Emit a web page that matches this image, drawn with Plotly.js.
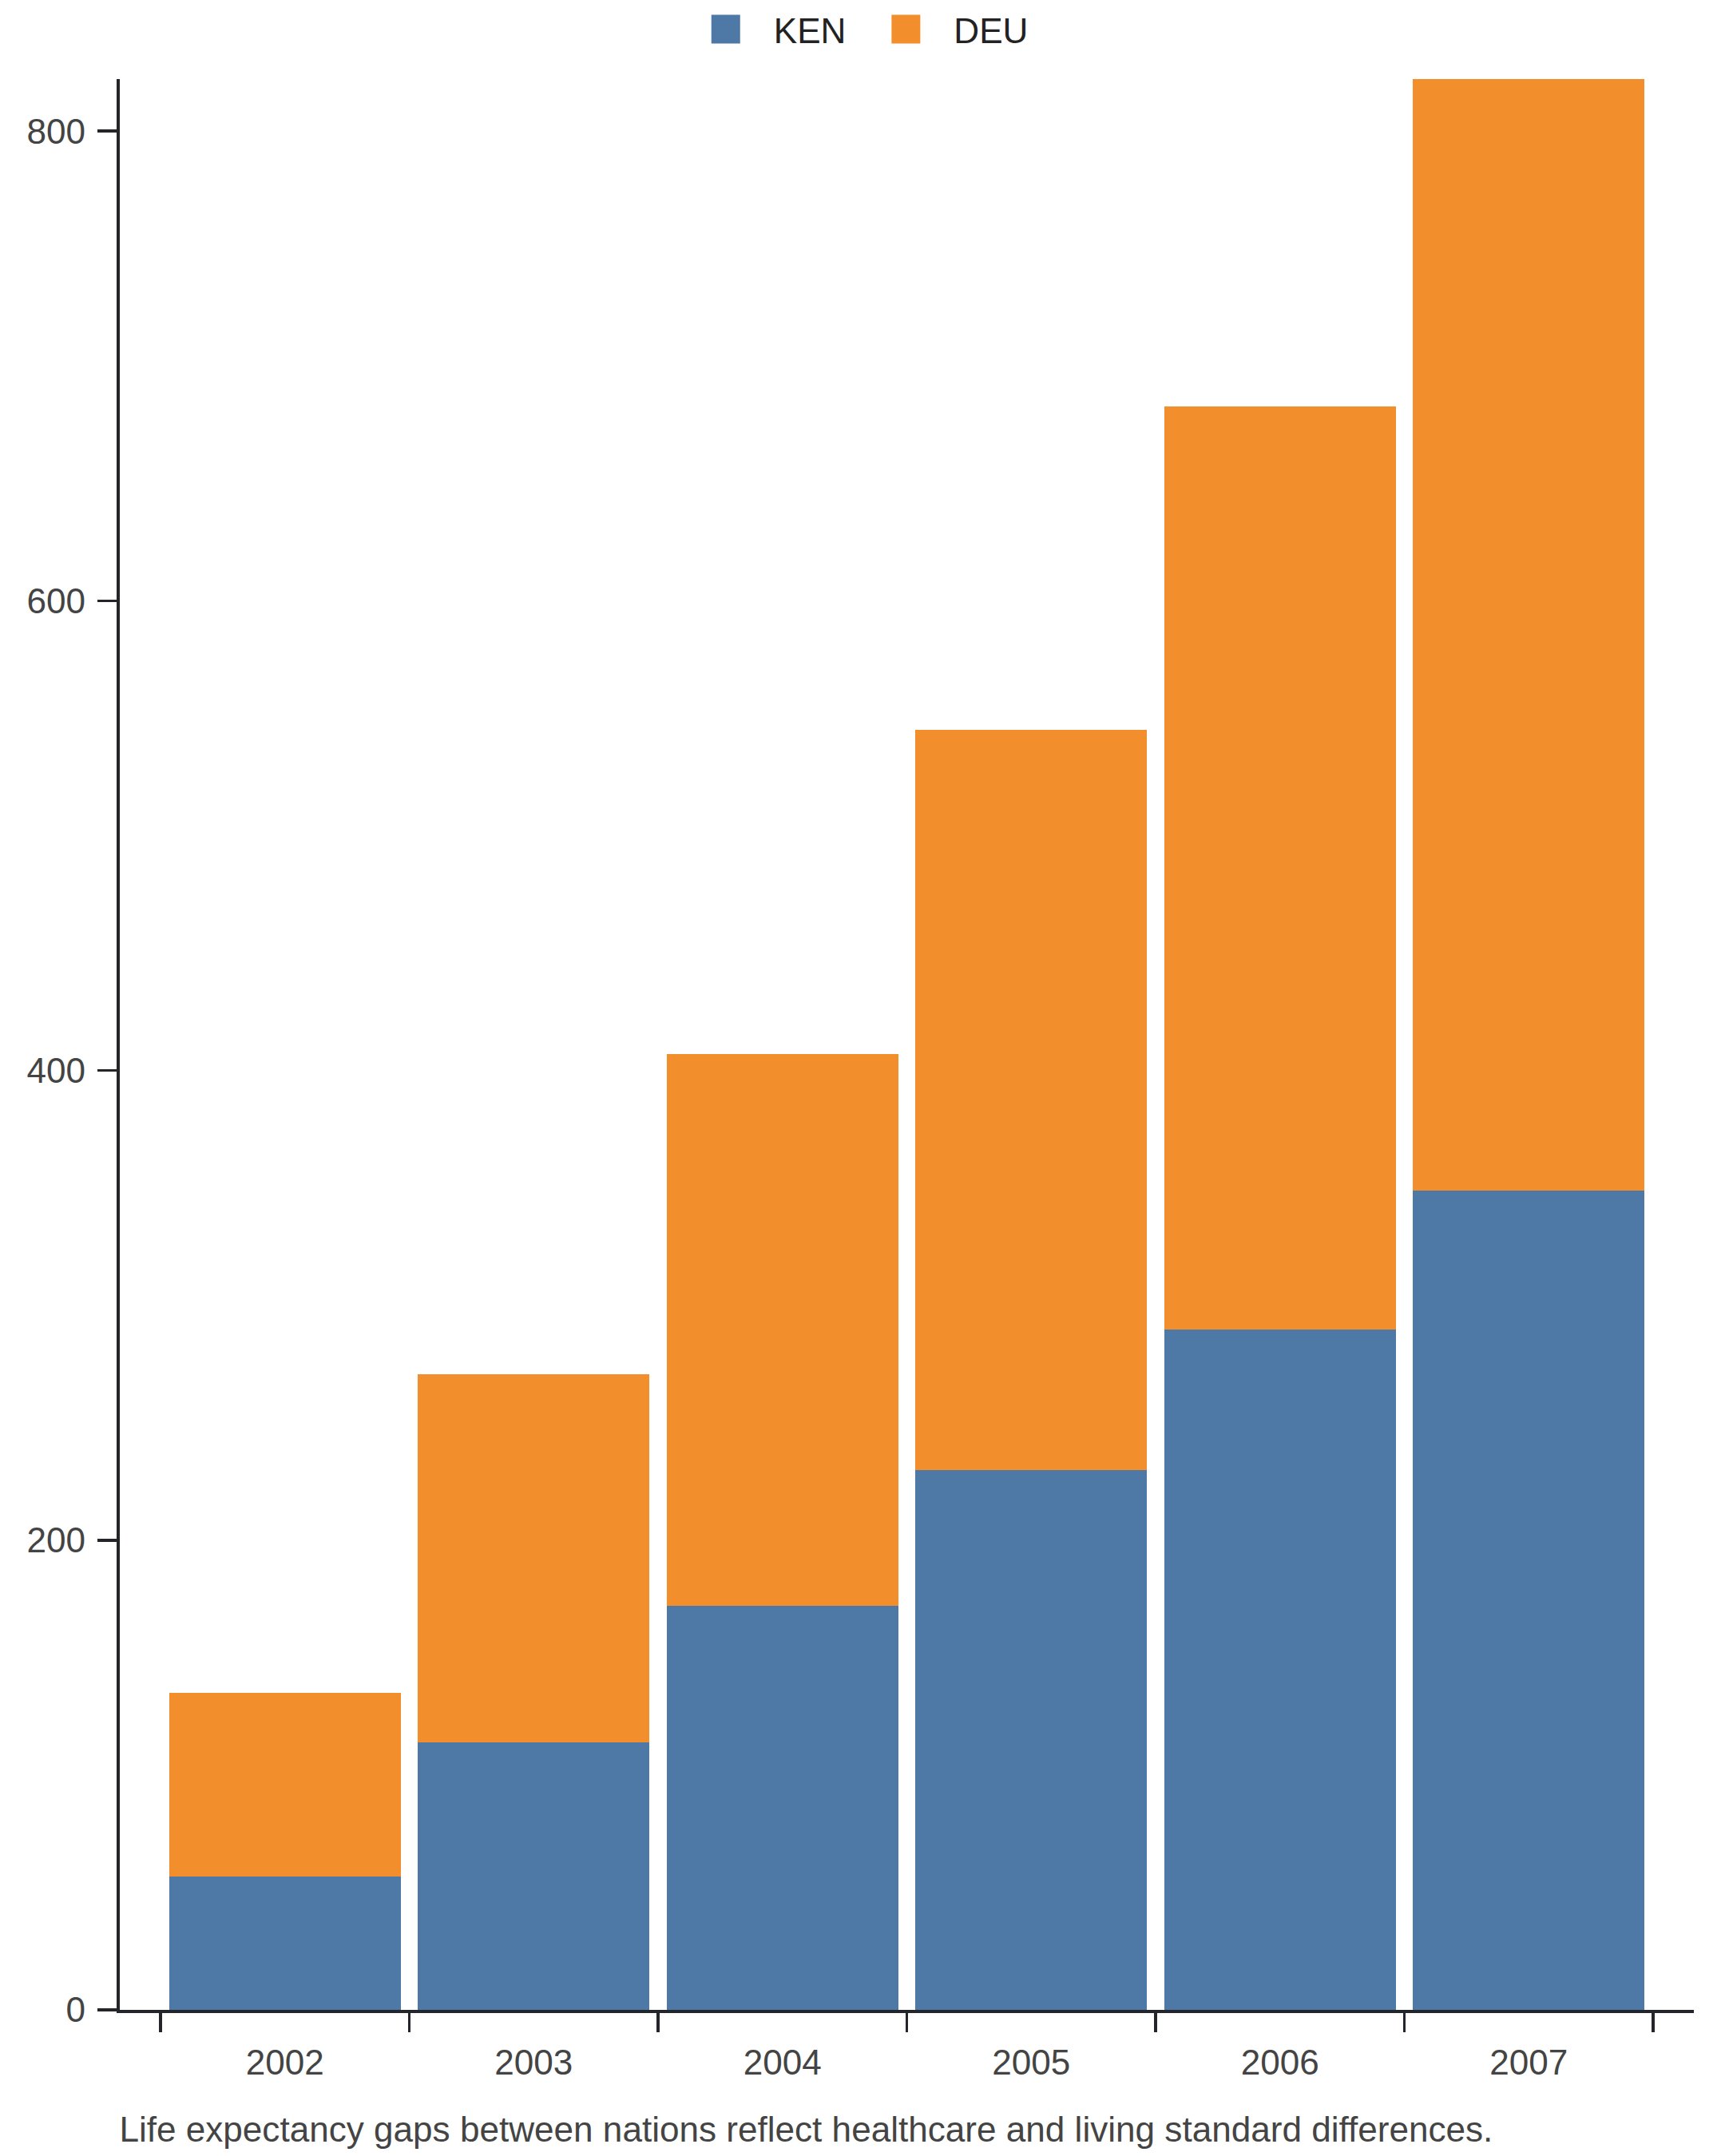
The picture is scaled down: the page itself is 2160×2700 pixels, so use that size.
<!DOCTYPE html>
<html>
<head>
<meta charset="utf-8">
<script src="https://cdn.plot.ly/plotly-3.0.1.min.js"></script>
<style>
  html { overflow: hidden; }
  body { margin: 0; padding: 0; background: #fff; width: 2160px; height: 2700px; }
  /* chart laid out at 720x900 and scaled 3x to fill the 2160x2700 window */
  #chart { width: 720px; height: 900px; transform: scale(3); transform-origin: 0 0; }
</style>
</head>
<body>
<div id="chart"></div>
<script>
// years on the x axis
var years = ['2002', '2003', '2004', '2005', '2006', '2007'];

// stacked series
var kenValues = [56.7, 114.0, 172.0, 230.0, 289.6, 349.0];
var deuValues = [78.2, 156.5, 235.0, 315.0, 393.3, 473.2];

var yTicks = [0, 200, 400, 600, 800];

var caption = 'Life expectancy gaps between nations reflect healthcare and living standard differences.';

// top of the y axis sits on the tallest stack
var totals = kenValues.map(function (v, i) { return v + deuValues[i]; });
var yMax = Math.max.apply(null, totals);

var trace1 = {
    x: years,
    y: kenValues,
    name: 'KEN',
    type: 'bar',
    marker: { color: '#4e79a7' },
    hoverinfo: 'none'
};
var trace2 = {
    x: years,
    y: deuValues,
    name: 'DEU',
    type: 'bar',
    marker: { color: '#f28e2b' },
    hoverinfo: 'none'
};

var axisColor = '#23252a';
var textSize = 14.7;

var layout = {
    width: 720,
    height: 900,
    barmode: 'stack',
    bargap: 0.07,
    paper_bgcolor: '#ffffff',
    plot_bgcolor: '#ffffff',
    font: { family: 'Liberation Sans, Arial, sans-serif', size: textSize, color: '#444' },
    margin: { l: 50, r: 13, t: 33, b: 61 },
    showlegend: true,
    legend: {
        orientation: 'h',
        traceorder: 'normal',
        x: 0.4985,
        xanchor: 'center',
        xref: 'container',
        y: 0.986,
        yanchor: 'middle',
        yref: 'container',
        font: { size: textSize, color: '#222' }
    },
    xaxis: {
        type: 'category',
        range: [-0.664, 5.664],
        tickson: 'boundaries',
        ticks: 'outside',
        ticklen: 8,
        tickwidth: 1.2,
        tickcolor: axisColor,
        ticklabelstandoff: 8,
        showline: true,
        linecolor: axisColor,
        linewidth: 1.4,
        showgrid: false,
        zeroline: false,
        tickfont: { size: textSize, color: '#444' }
    },
    yaxis: {
        range: [0, yMax],
        tickvals: yTicks,
        ticks: 'outside',
        ticklen: 8,
        tickwidth: 1.2,
        tickcolor: axisColor,
        ticklabelstandoff: 2,
        showline: true,
        linecolor: axisColor,
        linewidth: 1.4,
        showgrid: false,
        zeroline: false,
        tickfont: { size: textSize, color: '#444' }
    },
    annotations: [{
        text: caption,
        xref: 'paper',
        yref: 'paper',
        x: -0.0035,
        xanchor: 'left',
        y: -0.062,
        yanchor: 'middle',
        showarrow: false,
        font: { size: textSize, color: '#444' }
    }]
};

var config = { staticPlot: true, displayModeBar: false };

Plotly.newPlot('chart', [trace1, trace2], layout, config);
</script>
</body>
</html>
